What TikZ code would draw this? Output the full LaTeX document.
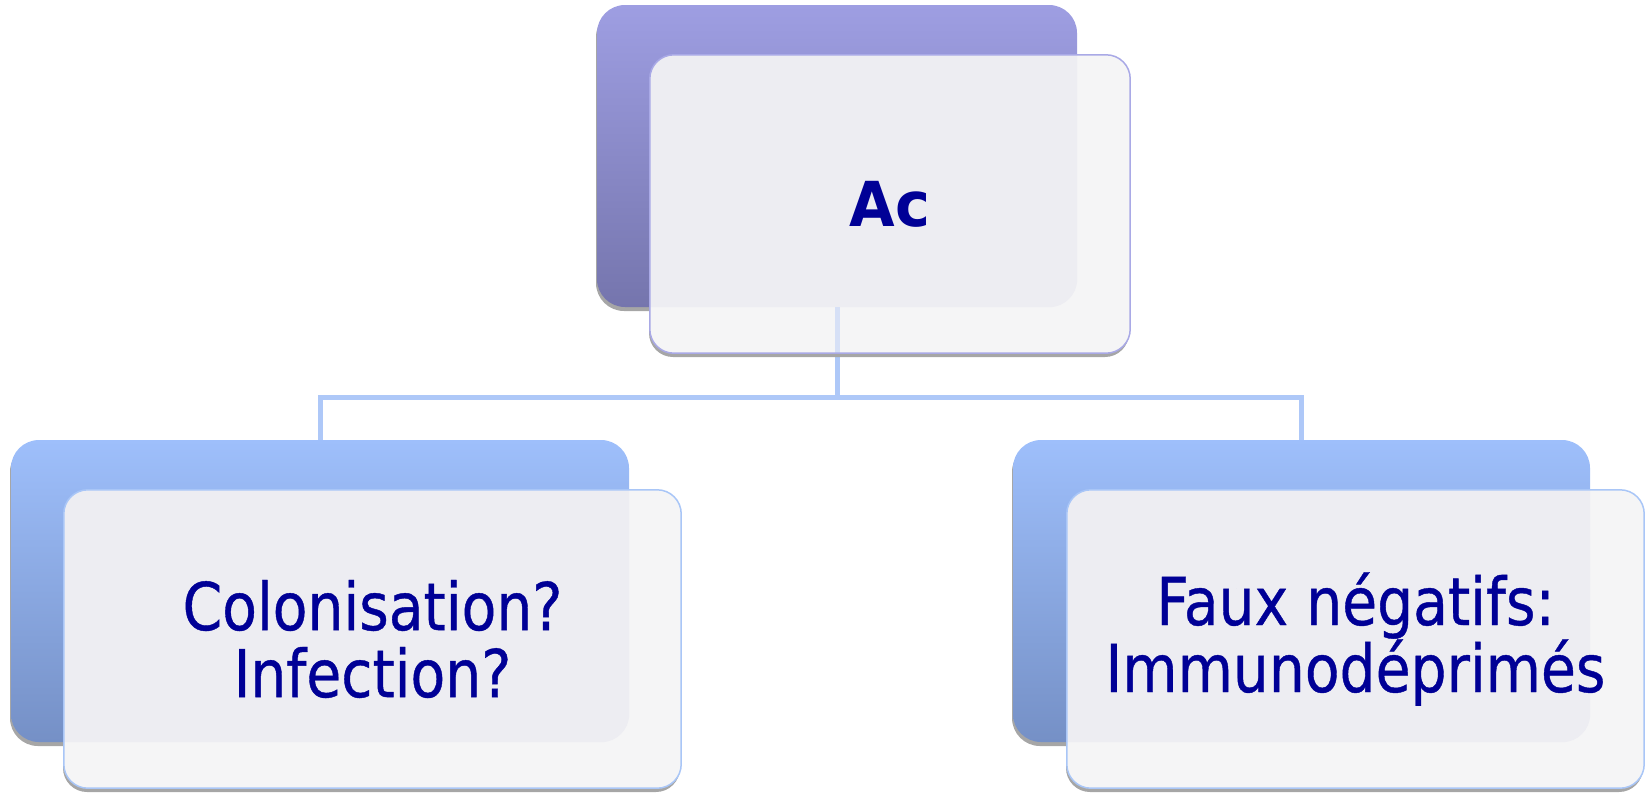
\documentclass[tikz,border=0pt]{standalone}
\usepackage{fontspec}
\newfontfamily\cardfont{DejaVu Sans}[FakeStretch=0.86,FakeBold=0.6]
\newfontfamily\titlefont{DejaVu Sans Bold}[FakeStretch=0.95]
\usetikzlibrary{shadows}

\definecolor{ink}{RGB}{0,0,150}
\definecolor{topA}{RGB}{158,158,226}
\definecolor{topB}{RGB}{149,149,214}
\definecolor{topC}{RGB}{117,117,173}
\definecolor{sideA}{RGB}{158,191,251}
\definecolor{sideB}{RGB}{146,174,234}
\definecolor{sideC}{RGB}{117,144,198}
\definecolor{frontfill}{RGB}{245,245,246}
\definecolor{overlapfill}{RGB}{237,237,242}
\definecolor{topedge}{RGB}{169,169,230}
\definecolor{sideedge}{RGB}{169,198,247}
\definecolor{linkcol}{RGB}{174,200,248}
\definecolor{linkfaint}{RGB}{214,224,246}
\definecolor{shade}{RGB}{166,166,166}

\tikzset{
  cardshadow/.style={drop shadow={shadow xshift=-1pt,shadow yshift=-4pt,opacity=1,fill=shade}},
  backbox/.style={inner sep=0pt,rounded corners=28pt,cardshadow},
  topback/.style={backbox,top color=topA,middle color=topB,bottom color=topC},
  sideback/.style={backbox,top color=sideA,middle color=sideB,bottom color=sideC},
  frontbox/.style={inner sep=0pt,rounded corners=24pt,fill=frontfill,cardshadow},
  overlap/.style={fill=overlapfill,rounded corners=28pt},
  rim/.style={line width=1.5pt,rounded corners=24pt},
  link/.style={draw=linkcol,line width=5pt},
  faintlink/.style={draw=linkfaint,line width=5pt},
  cardtext/.style={text=ink,align=center,font=\cardfont\fontsize{66}{67}\selectfont},
  titletext/.style={text=ink,align=center,font=\titlefont\fontsize{62}{62}\selectfont},
}

\begin{document}
\begin{tikzpicture}[x=1pt,y=-1pt]
\useasboundingbox (0,0) rectangle (1651,793);

% back cards
\node[topback,minimum width=480pt,minimum height=302pt] (tb) at (837,156) {};
\node[sideback,minimum width=618pt,minimum height=302pt] (lb) at (320,591) {};
\node[sideback,minimum width=577pt,minimum height=302pt] (rb) at (1301.5,591) {};

% tree connectors
\coordinate (bus) at (837,397);
\draw[link] (tb.south) -- (bus);
\draw[link] (lb.north) |- (bus) -| (rb.north);

% front cards
\node[frontbox,minimum width=480pt,minimum height=298pt] (tf) at (890,204) {};
\node[frontbox,minimum width=617pt,minimum height=298pt] (lf) at (372.5,639) {};
\node[frontbox,minimum width=577pt,minimum height=298pt] (rf) at (1355.5,639) {};

% the back cards show faintly through the front cards
\begin{scope}
  \clip[rounded corners=24pt] (tf.south west) rectangle (tf.north east);
  \fill[overlap] (tb.south west) rectangle (tb.north east);
  \draw[faintlink] (tb.south) -- (bus);
\end{scope}
\begin{scope}
  \clip[rounded corners=24pt] (lf.south west) rectangle (lf.north east);
  \fill[overlap] (lb.south west) rectangle (lb.north east);
\end{scope}
\begin{scope}
  \clip[rounded corners=24pt] (rf.south west) rectangle (rf.north east);
  \fill[overlap] (rb.south west) rectangle (rb.north east);
\end{scope}

% front card rims
\draw[rim,draw=topedge] (tf.south west) rectangle (tf.north east);
\draw[rim,draw=sideedge] (lf.south west) rectangle (lf.north east);
\draw[rim,draw=sideedge] (rf.south west) rectangle (rf.north east);

% labels
\node[titletext] (ac) at (tf.center) {Ac};
\node[cardtext] (lt) at (lf.center) {Colonisation?\\Infection?};
\node[cardtext] (rt) at (rf.center) {Faux négatifs:\\Immunodéprimés};
\end{tikzpicture}
\end{document}
